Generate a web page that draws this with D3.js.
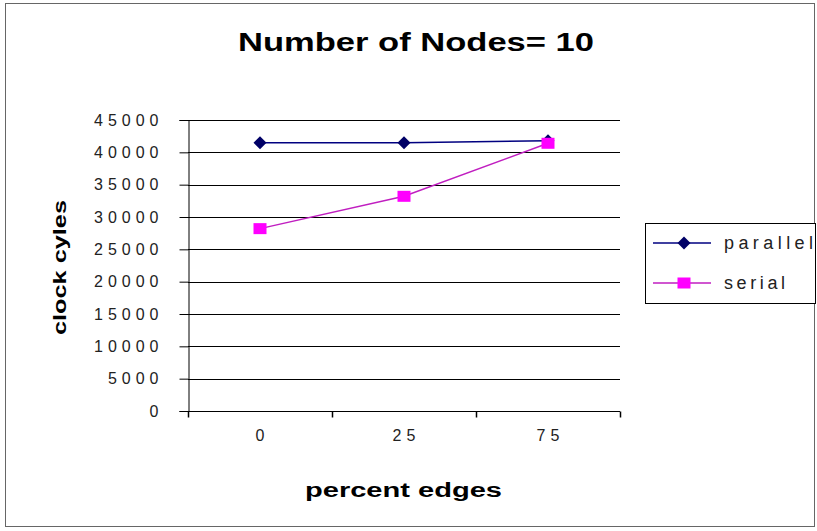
<!DOCTYPE html>
<html>
<head>
<meta charset="utf-8">
<script src="https://cdn.jsdelivr.net/npm/d3@7"></script>
<style>
  body { margin: 0; background: #fff; }
  svg { display: block; }
</style>
</head>
<body>
<svg id="chart" width="817" height="531"></svg>
<script>
// Clock cycles for a 10-node graph, by percentage of edges
const categories = ["0", "25", "75"];
const parallelValues = [41500, 41500, 41800];
const serialValues = [28200, 33200, 41400];
const yTicks = [0, 5000, 10000, 15000, 20000, 25000, 30000, 35000, 40000, 45000];
const seriesNames = ["parallel", "serial"];

const series = [
  { name: seriesNames[0], values: parallelValues, line: "#000080", color: "#000066", marker: "diamond" },
  { name: seriesNames[1], values: serialValues, line: "#c01ec0", color: "#ff00ff", marker: "square" }
];

const svg = d3.select("#chart");
const W = 817, H = 531;
const plot = { left: 188, right: 620, top: 120, bottom: 411 };
const font = "'Liberation Sans', Arial, sans-serif";

// outer frame
svg.append("rect")
  .attr("x", 5.5).attr("y", 3.5)
  .attr("width", W - 8).attr("height", H - 8)
  .attr("fill", "#fff").attr("stroke", "#666").attr("stroke-width", 1);

const x = d3.scaleBand().domain(categories).range([plot.left, plot.right]);
const y = d3.scaleLinear().domain([0, 45000]).range([plot.bottom, plot.top]);

// horizontal gridlines
svg.append("g").selectAll("line").data(yTicks.filter(d => d > 0)).join("line")
  .attr("x1", plot.left).attr("x2", plot.right)
  .attr("y1", d => Math.round(y(d)) + 0.5).attr("y2", d => Math.round(y(d)) + 0.5)
  .attr("stroke", "#000").attr("stroke-width", 1);

// y axis
const yAxis = svg.append("g")
  .attr("transform", `translate(${plot.left + 0.5},0)`)
  .call(d3.axisLeft(y).tickValues(yTicks).tickSize(9).tickPadding(16).tickFormat(d3.format("d")));
yAxis.select(".domain").attr("stroke", "#000");
yAxis.selectAll(".tick line").attr("stroke", "#000");
yAxis.selectAll(".tick text")
  .attr("font-family", font).attr("font-size", 16).attr("letter-spacing", 5)
  .attr("fill", "#222");

// x axis
const xAxis = svg.append("g")
  .attr("transform", `translate(0,${plot.bottom + 0.5})`)
  .call(d3.axisBottom(x).tickSize(0).tickPadding(29));
xAxis.select(".domain").attr("stroke", "#000").attr("d", `M${plot.left},0H${plot.right}`);
xAxis.selectAll(".tick text")
  .attr("font-family", font).attr("font-size", 16).attr("letter-spacing", 5)
  .attr("dx", 2.5).attr("dy", 0).attr("fill", "#222");
// category separators as tick marks
xAxis.append("g").selectAll("line")
  .data(categories.map(c => x(c)).concat([plot.right]))
  .join("line")
  .attr("x1", d => Math.round(d) + 0.5).attr("x2", d => Math.round(d) + 0.5)
  .attr("y1", 0).attr("y2", 6)
  .attr("stroke", "#000").attr("stroke-width", 1.5);

const cx = c => x(c) + x.bandwidth() / 2;

// series lines
const line = d3.line().x((d, i) => cx(categories[i])).y(d => y(d));
series.forEach(s => {
  svg.append("path")
    .datum(s.values)
    .attr("d", line)
    .attr("fill", "none")
    .attr("stroke", s.line)
    .attr("stroke-width", 1.5);
});

function drawMarker(g, kind, px, py, color) {
  if (kind === "diamond") {
    g.append("path")
      .attr("d", `M${px},${py - 6.5}L${px + 6.5},${py}L${px},${py + 6.5}L${px - 6.5},${py}Z`)
      .attr("fill", color);
  } else {
    g.append("rect")
      .attr("x", px - 6.5).attr("y", py - 5.5).attr("width", 13).attr("height", 11)
      .attr("fill", color);
  }
}

const markers = svg.append("g");
series.forEach(s => {
  s.values.forEach((v, i) => drawMarker(markers, s.marker, cx(categories[i]), y(v), s.color));
});

// title
svg.append("text")
  .attr("x", 238).attr("y", 51)
  .attr("textLength", 356).attr("lengthAdjust", "spacingAndGlyphs")
  .attr("font-family", font).attr("font-weight", "bold").attr("font-size", 26)
  .text("Number of Nodes= 10");

// axis titles
svg.append("text")
  .attr("x", 305).attr("y", 497)
  .attr("textLength", 197).attr("lengthAdjust", "spacingAndGlyphs")
  .attr("font-family", font).attr("font-weight", "bold").attr("font-size", 20)
  .text("percent edges");

svg.append("text")
  .attr("transform", "translate(66,335) rotate(-90)")
  .attr("textLength", 135).attr("lengthAdjust", "spacingAndGlyphs")
  .attr("font-family", font).attr("font-weight", "bold").attr("font-size", 19)
  .text("clock cyles");

// legend
const legend = svg.append("g");
legend.append("rect")
  .attr("x", 645.5).attr("y", 223.5).attr("width", 170).attr("height", 80)
  .attr("fill", "#fff").attr("stroke", "#000").attr("stroke-width", 1);
const legendWidths = [89, 61];
series.forEach((s, i) => {
  const ly = 243 + i * 40;
  legend.append("line")
    .attr("x1", 653).attr("x2", 711).attr("y1", ly).attr("y2", ly)
    .attr("stroke", s.line).attr("stroke-width", 1.5);
  drawMarker(legend, s.marker, 684, ly, s.color);
  legend.append("text")
    .attr("x", 724).attr("y", ly + 6)
    .attr("textLength", legendWidths[i])
    .attr("font-family", font).attr("font-size", 18)
    .attr("fill", "#222")
    .text(s.name);
});
</script>
</body>
</html>
